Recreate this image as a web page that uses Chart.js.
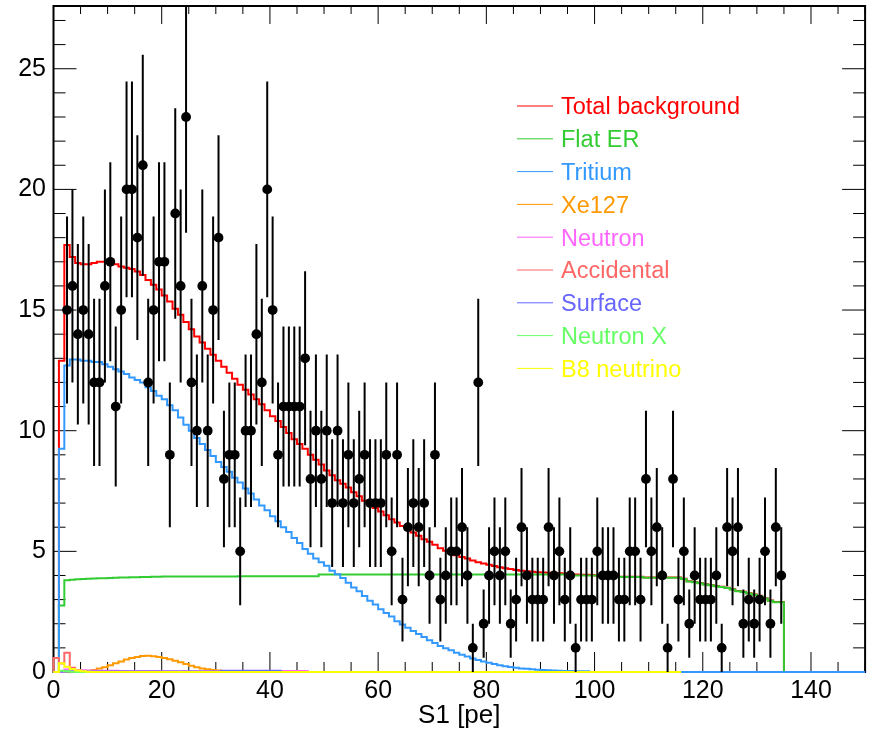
<!DOCTYPE html>
<html>
<head>
<meta charset="utf-8">
<script src="https://cdn.jsdelivr.net/npm/chart.js@4.4.1/dist/chart.umd.min.js"></script>
<style>
	html, body { margin: 0; padding: 0; background: #fff; }
	canvas { display: block; }
</style>
</head>
<body>
<canvas id="myChart" width="870" height="734"></canvas>
<script>
// observed counts per 1 pe bin, first bin is [2, 3)
const firstDataBin = 2;
const counts = [
	15, 16, 14, 15, 14, 12, 12, 16,
	17, 11, 15, 20, 20, 18, 21, 12, 15, 17,
	17, 9, 19, 16, 23, 12, 10, 16, 10, 15,
	18, 8, 9, 9, 5, 10, 10, 14, 12, 20,
	15, 9, 11, 11, 11, 11, 13, 8, 10, 8,
	10, 7, 10, 7, 9, 7, 8, 9, 7, 7,
	7, 9, 5, 9, 3, 6, 7, 6, 7, 4,
	9, 3, 4, 5, 5, 6, 4, 1, 12, 2,
	4, 5, 4, 5, 2, 3, 6, 4, 3, 3,
	3, 6, 4, 5, 3, 4, 1, 3, 3, 3,
	5, 4, 4, 4, 3, 3, 5, 5, 3, 8,
	5, 6, 4, 1, 8, 3, 5, 2, 4, 3,
	3, 3, 4, 1, 6, 5, 6, 2, 3, 2,
	3, 5, 2, 6, 4,
];

// background model histograms, bin i covers [i, i+1) pe
const totalBkg = [
	0, 0, 12.9, 17.7, 17.2, 16.95, 16.9, 16.9, 16.95, 17.0,
	17.0, 16.95, 16.9, 16.8, 16.75, 16.7, 16.6, 16.45, 16.25, 16.05,
	15.85, 15.6, 15.35, 15.05, 14.8, 14.5, 14.2, 13.9, 13.65, 13.4,
	13.15, 12.9, 12.65, 12.4, 12.15, 11.9, 11.7, 11.5, 11.3, 11.1,
	10.85, 10.6, 10.4, 10.15, 9.9, 9.65, 9.45, 9.25, 9.0, 8.8,
	8.6, 8.35, 8.15, 7.95, 7.8, 7.65, 7.45, 7.28, 7.1, 6.95,
	6.8, 6.65, 6.5, 6.33, 6.2, 6.05, 5.9, 5.78, 5.65, 5.5,
	5.4, 5.27, 5.13, 5.02, 4.93, 4.84, 4.77, 4.7, 4.62, 4.55,
	4.5, 4.44, 4.39, 4.34, 4.3, 4.27, 4.23, 4.2, 4.18, 4.15,
	4.13, 4.12, 4.11, 4.1, 4.09, 4.08, 4.04, 4.04, 4.03, 4.03,
	4.02, 4.0, 4.0, 4.0, 3.96, 3.95, 3.95, 3.95, 3.95, 3.95,
	3.92, 3.92, 3.92, 3.92, 3.92, 3.92, 3.92, 3.86, 3.76, 3.73,
	3.69, 3.64, 3.61, 3.56, 3.53, 3.49, 3.43, 3.36, 3.33, 3.26,
	3.21, 3.16, 3.06, 2.96, 2.9,
];
const flatER = [
	0, 0, 2.76, 3.8, 3.82, 3.84, 3.85, 3.86, 3.87, 3.88,
	3.89, 3.9, 3.91, 3.92, 3.92, 3.93, 3.93, 3.94, 3.94, 3.95,
	3.95, 3.96, 3.96, 3.96, 3.96, 3.96, 3.96, 3.96, 3.96, 3.96,
	3.96, 3.96, 3.96, 3.96, 3.96, 3.97, 3.97, 3.97, 3.97, 3.97,
	3.97, 3.97, 3.97, 3.97, 3.97, 3.97, 3.97, 3.97, 3.97, 3.97,
	4.04, 4.04, 4.04, 4.04, 4.04, 4.04, 4.04, 4.04, 4.04, 4.04,
	4.04, 4.04, 4.04, 4.04, 4.04, 4.04, 4.04, 4.04, 4.04, 4.04,
	4.04, 4.04, 4.04, 4.04, 4.04, 4.04, 4.04, 4.04, 4.04, 4.04,
	4.04, 4.04, 4.04, 4.04, 4.04, 4.04, 4.04, 4.04, 4.04, 4.04,
	4.04, 4.04, 4.04, 4.04, 4.04, 4.04, 4.0, 4.0, 4.0, 4.0,
	4.0, 4.0, 4.0, 4.0, 3.94, 3.94, 3.94, 3.94, 3.94, 3.94,
	3.91, 3.91, 3.91, 3.91, 3.91, 3.91, 3.91, 3.85, 3.75, 3.72,
	3.68, 3.63, 3.6, 3.55, 3.52, 3.48, 3.42, 3.35, 3.32, 3.25,
	3.2, 3.15, 3.05, 2.95, 2.89,
];
const tritium = [
	0, 0, 9.25, 12.7, 12.95, 12.95, 12.9, 12.9, 12.85, 12.85,
	12.75, 12.65, 12.55, 12.45, 12.35, 12.2, 12.1, 12.0, 11.8, 11.65,
	11.45, 11.3, 11.05, 10.85, 10.55, 10.25, 10.0, 9.7, 9.45, 9.2,
	8.95, 8.7, 8.5, 8.3, 8.05, 7.85, 7.6, 7.4, 7.15, 6.9,
	6.7, 6.45, 6.25, 6.0, 5.8, 5.55, 5.35, 5.1, 4.9, 4.7,
	4.55, 4.4, 4.2, 4.05, 3.9, 3.7, 3.5, 3.35, 3.15, 2.95,
	2.8, 2.6, 2.45, 2.3, 2.1, 1.97, 1.83, 1.7, 1.57, 1.45,
	1.32, 1.2, 1.08, 0.98, 0.9, 0.8, 0.72, 0.64, 0.56, 0.5,
	0.44, 0.38, 0.33, 0.28, 0.24, 0.21, 0.18, 0.15, 0.13, 0.11,
	0.09, 0.08, 0.07, 0.06, 0.05, 0.04, 0.04, 0.03, 0.03, 0.03,
];
const xe127 = [
	0, 0, 0, 0, 0, 0, 0.01, 0.04, 0.08, 0.14,
	0.2, 0.28, 0.36, 0.44, 0.52, 0.58, 0.62, 0.66, 0.67, 0.65,
	0.62, 0.58, 0.53, 0.47, 0.4, 0.33, 0.26, 0.2, 0.15, 0.11,
	0.08, 0.06, 0.04, 0.02, 0.01,
];
const neutron = [
	0, 0, 0, 0.1, 0.09, 0.08, 0.07, 0.06, 0.05, 0.05,
	0.05, 0.05, 0.05, 0.04, 0.04, 0.04, 0.04, 0.04, 0.04, 0.04,
	0.04, 0.03, 0.03, 0.03, 0.03, 0.03, 0.03, 0.03, 0.03, 0.03,
	0.03, 0.03, 0.03, 0.03, 0.03, 0.03, 0.03, 0.03, 0.03, 0.03,
	0.03, 0.04, 0.04, 0.04, 0.04, 0.04, 0.04,
];
const accidental = [0, 0.58, 0.35, 0.8, 0.18, 0.06, 0.02];
const surface = [
	0, 0, 0.02, 0.02, 0.02, 0.02, 0.02, 0.02, 0.02, 0.02,
	0.02, 0.02, 0.02, 0.02, 0.02, 0.02, 0.02, 0.02, 0.02, 0.02,
	0.02, 0.02, 0.02, 0.02, 0.02, 0.02, 0.02, 0.02, 0.02, 0.02,
	0.02, 0.02, 0.05, 0.05, 0.05, 0.05, 0.05, 0.05, 0.05, 0.05,
	0.05, 0.05,
];
const neutronX = [0, 0, 0.05, 0.03, 0.01];
const b8 = [0, 0, 0.36, 0.22, 0.12, 0.06, 0.03, 0.01];

// upper edge of each histogram's range in pe
const histUpper = {
	totalBkg: 135, flatER: 135, tritium: 150, xe127: 40, neutron: 47,
	accidental: 20, surface: 42, neutronX: 10, b8: 116,
};

const xTicks = [0, 20, 40, 60, 80, 100, 120, 140];
const yTicks = [0, 5, 10, 15, 20, 25];

const fontFamily = '"Liberation Sans", Arial, Helvetica, sans-serif';

// bin contents -> outline points for a stepped line, closed down to zero
function histOutline(values, upper) {
	const pts = [];
	for (let i = 0; i < upper; i++) {
		pts.push({ x: i, y: i < values.length ? values[i] : 0 });
	}
	pts.push({ x: upper, y: pts[pts.length - 1].y });
	pts.push({ x: upper, y: 0 });
	return pts;
}

function histDataset(label, values, upper, color, order) {
	return {
		type: 'line',
		label: label,
		data: histOutline(values, upper),
		borderColor: color,
		borderWidth: 2,
		pointRadius: 0,
		stepped: 'after',
		fill: false,
		clip: 3,
		order: order,
	};
}

const dataPoints = counts.map((n, i) => ({ x: firstDataBin + i + 0.5, y: n }));

const errorBars = {
	id: 'errorBars',
	beforeDatasetDraw(chart, args) {
		if (args.meta.type !== 'scatter') return;
		const { ctx, chartArea, scales: { x, y } } = chart;
		ctx.save();
		ctx.beginPath();
		ctx.rect(chartArea.left, chartArea.top, chartArea.width, chartArea.height);
		ctx.clip();
		ctx.strokeStyle = '#000';
		ctx.lineWidth = 2;
		dataPoints.forEach(p => {
			const err = Math.sqrt(p.y);
			const px = x.getPixelForValue(p.x);
			ctx.beginPath();
			ctx.moveTo(px, y.getPixelForValue(p.y - err));
			ctx.lineTo(px, y.getPixelForValue(p.y + err));
			ctx.stroke();
		});
		ctx.restore();
	},
};

// frame and inward tick marks on all four sides
const frameTicks = {
	id: 'frameTicks',
	beforeDatasetsDraw(chart) {
		const { ctx, chartArea: a, scales: { x, y } } = chart;
		ctx.save();
		ctx.strokeStyle = '#000';
		ctx.lineWidth = 1;
		for (let v = 0; v <= 150; v += 5) {
			const px = x.getPixelForValue(v);
			const major = xTicks.includes(v);
			ctx.beginPath();
			ctx.moveTo(px, a.bottom);
			ctx.lineTo(px, a.bottom - (major ? 20 : 10));
			ctx.moveTo(px, a.top);
			ctx.lineTo(px, a.top + (major ? 18 : 8));
			ctx.stroke();
		}
		for (let v = 0; v <= 27; v += 1) {
			const py = y.getPixelForValue(v);
			const len = yTicks.includes(v) ? 23 : 12;
			ctx.beginPath();
			ctx.moveTo(a.left, py);
			ctx.lineTo(a.left + len, py);
			ctx.moveTo(a.right, py);
			ctx.lineTo(a.right - len, py);
			ctx.stroke();
		}
		ctx.lineWidth = 2;
		ctx.strokeRect(a.left, a.top, a.right - a.left, a.bottom - a.top);
		ctx.restore();
	},
};

const legendBox = {
	id: 'legendBox',
	afterDraw(chart) {
		const { ctx } = chart;
		const rows = chart.data.datasets.filter(d => d.type === 'line');
		ctx.save();
		ctx.font = '23.5px ' + fontFamily;
		ctx.textBaseline = 'alphabetic';
		rows.forEach((d, i) => {
			const yMid = 106 + i * 32.8;
			ctx.strokeStyle = d.borderColor;
			ctx.lineWidth = 1;
			ctx.beginPath();
			ctx.moveTo(517, yMid);
			ctx.lineTo(553, yMid);
			ctx.stroke();
			ctx.fillStyle = d.borderColor;
			ctx.fillText(d.label, 561, yMid + 8.4);
		});
		ctx.restore();
	},
};

const ctx = document.getElementById('myChart');
const chart = new Chart(ctx, {
	type: 'line',
	data: {
		datasets: [
			histDataset('Total background', totalBkg, histUpper.totalBkg, '#ff0000', 9),
			histDataset('Flat ER', flatER, histUpper.flatER, '#33cc33', 8),
			histDataset('Tritium', tritium, histUpper.tritium, '#3399ff', 7),
			histDataset('Xe127', xe127, histUpper.xe127, '#ff9900', 6),
			histDataset('Neutron', neutron, histUpper.neutron, '#ff66ff', 5),
			histDataset('Accidental', accidental, histUpper.accidental, '#ff6666', 4),
			histDataset('Surface', surface, histUpper.surface, '#6666ff', 3),
			histDataset('Neutron X', neutronX, histUpper.neutronX, '#66ff66', 2),
			histDataset('B8 neutrino', b8, histUpper.b8, '#ffff00', 1),
			{
				type: 'scatter',
				label: 'Data',
				data: dataPoints,
				pointRadius: 4.9,
				pointBackgroundColor: '#000',
				pointBorderWidth: 0,
				order: 0,
			},
		],
	},
	options: {
		responsive: false,
		animation: false,
		devicePixelRatio: 1,
		layout: { padding: { top: 6, right: 0.5, left: 0, bottom: 0 } },
		plugins: {
			legend: { display: false },
			tooltip: { enabled: false },
		},
		scales: {
			x: {
				type: 'linear',
				min: 0,
				max: 150,
				grid: { display: false, drawTicks: false, tickLength: 0 },
				border: { display: false },
				afterBuildTicks: s => { s.ticks = xTicks.map(v => ({ value: v })); },
				afterFit: s => {
					s.height = 62;
					s.paddingLeft = 0;
					s.paddingRight = 0;
				},
				ticks: {
					padding: 4,
					color: '#000',
					maxRotation: 0,
					autoSkip: false,
					font: { family: fontFamily, size: 25 },
				},
				title: {
					display: true,
					text: 'S1 [pe]',
					color: '#000',
					font: { family: fontFamily, size: 26 },
					padding: { top: 0, bottom: 3 },
				},
			},
			y: {
				type: 'linear',
				min: 0,
				max: 27.6,
				grid: { display: false, drawTicks: false, tickLength: 0 },
				border: { display: false },
				afterBuildTicks: s => { s.ticks = yTicks.map(v => ({ value: v })); },
				afterFit: s => {
					s.width = 53.5;
					s.paddingTop = 0;
					s.paddingBottom = 0;
				},
				ticks: {
					padding: 7.5,
					color: '#000',
					font: { family: fontFamily, size: 25 },
				},
			},
		},
	},
	plugins: [frameTicks, errorBars, legendBox],
});
</script>
</body>
</html>
